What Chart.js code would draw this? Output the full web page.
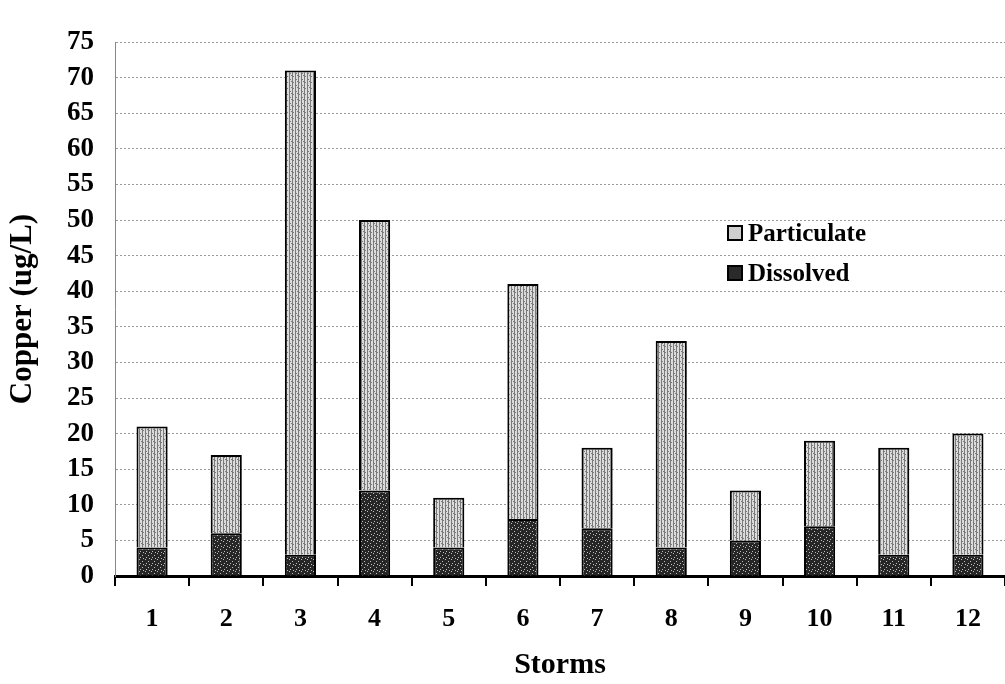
<!DOCTYPE html>
<html>
<head>
<meta charset="utf-8">
<script src="https://cdn.jsdelivr.net/npm/chart.js@4.4.0/dist/chart.umd.min.js"></script>
<style>
  html, body { margin: 0; padding: 0; background: #fff; }
  #wrap { position: relative; width: 1005px; height: 684px; }
  #legend { position: absolute; left: 727px; top: 213px; font-family: "Liberation Serif", "DejaVu Serif", serif; font-weight: bold; font-size: 25px; color: #000; line-height: 40px; }
  .item { display: flex; align-items: center; white-space: nowrap; }
  .sw { width: 16px; height: 16px; border: 2px solid #000; margin-right: 5px; box-sizing: border-box; }
</style>
</head>
<body>
<div id="wrap">
  <canvas id="c" width="1005" height="684"></canvas>
  <div id="legend"></div>
</div>
<script>
const categories = ['1','2','3','4','5','6','7','8','9','10','11','12'];
const dissolved = [4, 6, 3, 12, 4, 8, 6.7, 4, 5, 7, 3, 3];
const totals = [21, 17, 71, 50, 11, 41, 18, 33, 12, 19, 18, 20];
const particulate = totals.map((t, i) => +(t - dissolved[i]).toFixed(1));
const yTicks = [0,5,10,15,20,25,30,35,40,45,50,55,60,65,70,75];

function makePattern(bg, fg, kind) {
  const p = document.createElement('canvas');
  p.width = 6; p.height = 6;
  const g = p.getContext('2d');
  g.fillStyle = bg; g.fillRect(0, 0, 6, 6);
  g.fillStyle = fg;
  if (kind === 'stripes') {
    g.fillRect(1, 0, 1, 6); g.fillRect(4, 0, 1, 6);
    g.fillRect(2, 1, 1, 1); g.fillRect(5, 4, 1, 1); g.fillRect(3, 3, 1, 1);
  } else {
    g.fillRect(1, 1, 1, 1); g.fillRect(4, 3, 1, 1); g.fillRect(2, 5, 1, 1); g.fillRect(5, 0, 1, 1);
  }
  return g.createPattern(p, 'repeat');
}
const ctx = document.getElementById('c').getContext('2d');
const partFill = makePattern('#dcdcdc', '#7a7a7a', 'stripes');
const dissFill = makePattern('#262626', '#bdbdbd', 'dots');

const serif = '"Liberation Serif", "DejaVu Serif", serif';

const chart = new Chart(ctx, {
  type: 'bar',
  data: {
    labels: categories,
    datasets: [
      { label: 'Dissolved', data: dissolved, backgroundColor: dissFill, borderColor: '#000', borderWidth: 2, barPercentage: 0.42, categoryPercentage: 1.0, legendColor: '#2a2a2a' },
      { label: 'Particulate', data: particulate, backgroundColor: partFill, borderColor: '#000', borderWidth: 2, barPercentage: 0.42, categoryPercentage: 1.0, legendColor: '#cfcfcf' }
    ]
  },
  options: {
    responsive: false,
    animation: false,
    layout: { padding: { top: 42, right: 0, left: 0, bottom: 0 } },
    plugins: { legend: { display: false }, tooltip: { enabled: false } },
    scales: {
      x: {
        stacked: true,
        grid: { drawOnChartArea: false, offset: true, color: '#000', lineWidth: 2, tickLength: 10 },
        border: { color: '#000', width: 3 },
        ticks: { color: '#000', font: { family: serif, size: 26, weight: 'bold' }, padding: 18 },
        title: { display: true, text: 'Storms', color: '#000', font: { family: serif, size: 30, weight: 'bold' }, padding: { top: 0, bottom: 1 } },
        afterFit: s => { s.height = 108; }
      },
      y: {
        stacked: true,
        min: 0, max: 75,
        afterBuildTicks: s => { s.ticks = yTicks.map(v => ({ value: v })); },
        grid: { color: '#9a9a9a', lineWidth: 1, drawTicks: false, tickBorderDash: [3, 3] },
        border: { color: '#888', width: 1, dash: [2, 2] },
        ticks: { color: '#000', font: { family: serif, size: 27, weight: 'bold' }, padding: 21 },
        title: { display: true, text: 'Copper (ug/L)', color: '#000', font: { family: serif, size: 31, weight: 'bold' }, padding: { bottom: 0, top: 4 } },
        afterFit: s => { s.width = 115; }
      }
    }
  }
});

const leg = document.getElementById('legend');
[chart.data.datasets[1], chart.data.datasets[0]].forEach(ds => {
  const d = document.createElement('div'); d.className = 'item';
  const sw = document.createElement('span'); sw.className = 'sw'; sw.style.background = ds.legendColor;
  const t = document.createElement('span'); t.textContent = ds.label;
  d.appendChild(sw); d.appendChild(t); leg.appendChild(d);
});
</script>
</body>
</html>
